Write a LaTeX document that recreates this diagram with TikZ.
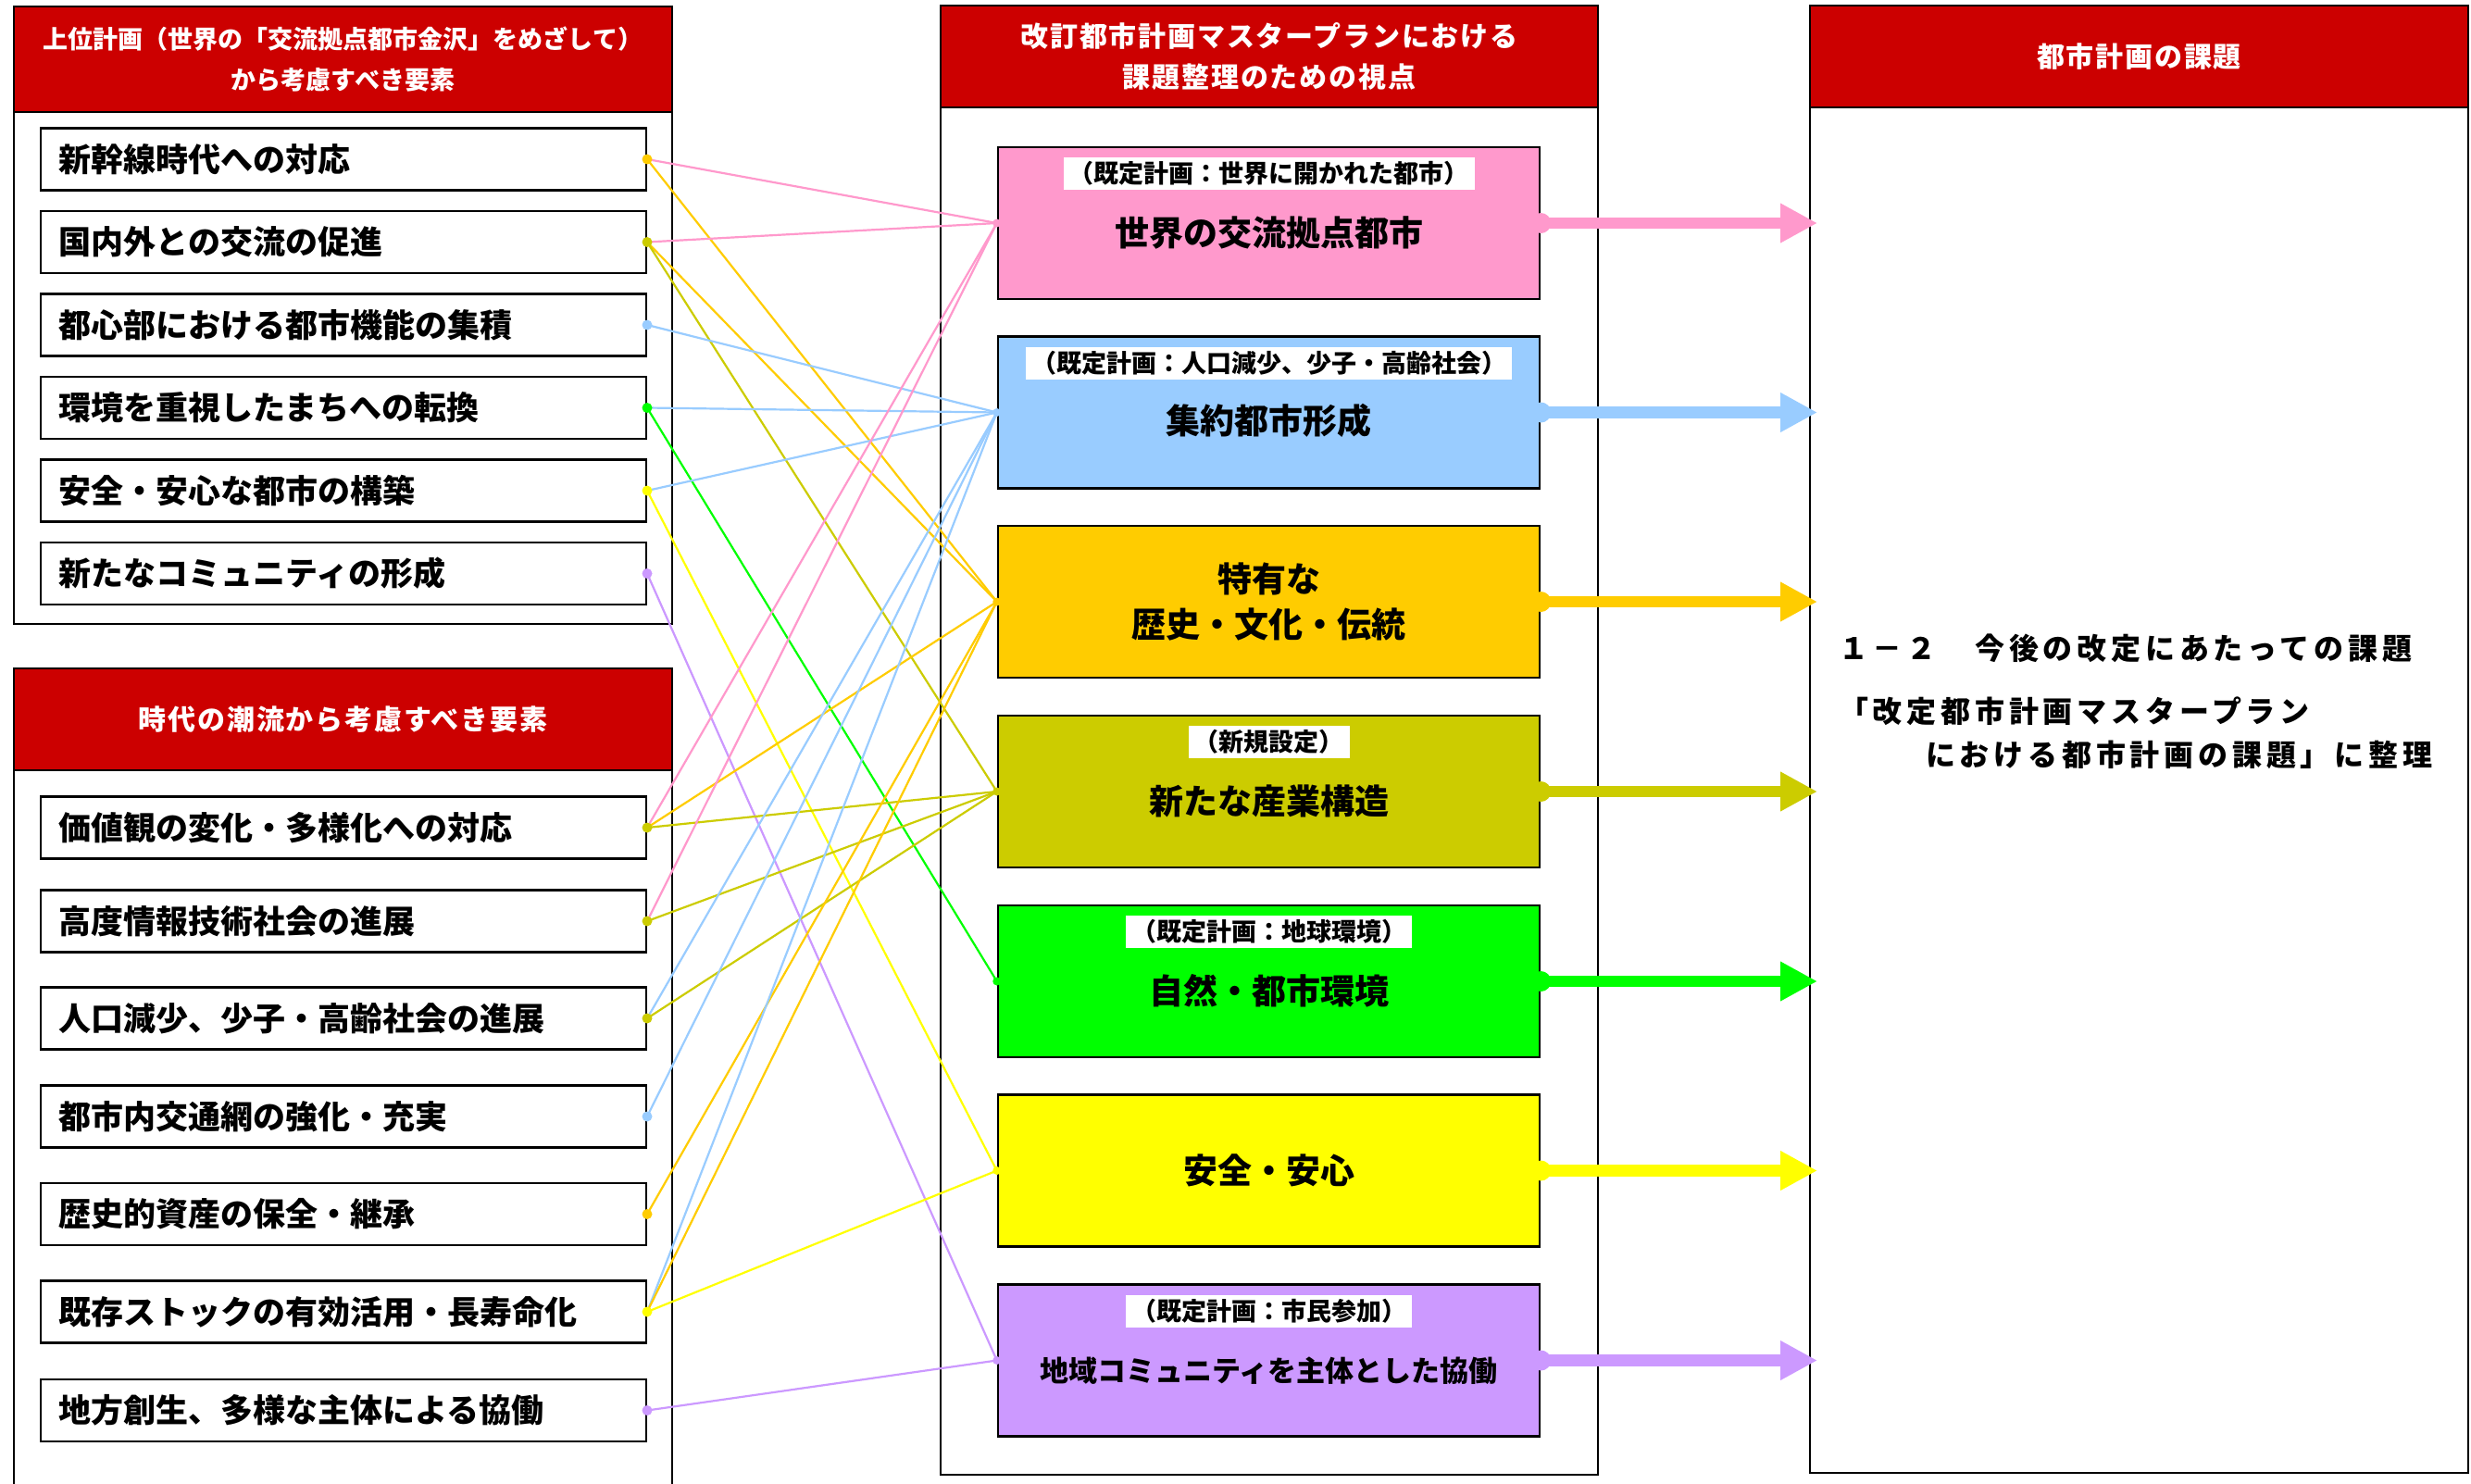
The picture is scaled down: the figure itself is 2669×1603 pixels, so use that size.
\documentclass[tikz,border=0pt]{standalone}
\usepackage{fontspec}
\setmainfont{Noto Sans CJK JP}
\newfontfamily\jphdr{Noto Sans CJK JP}[LetterSpace=6]
\newfontfamily\jpwide{Noto Sans CJK JP}[LetterSpace=15]
\usetikzlibrary{arrows.meta}
\definecolor{hdrred}{HTML}{CC0000}
\definecolor{cpink}{HTML}{FF99CC}
\definecolor{cblue}{HTML}{99CCFF}
\definecolor{corange}{HTML}{FFCC00}
\definecolor{colive}{HTML}{CCCC00}
\definecolor{cgreen}{HTML}{00FF00}
\definecolor{cyellow}{HTML}{FFFF00}
\definecolor{cpurple}{HTML}{CC99FF}
\begin{document}
\begin{tikzpicture}[x=1pt,y=-1pt,
 panel/.style={draw=black, line width=2.5pt},
 hdr/.style={draw=black, line width=2.5pt, fill=hdrred, text=white, align=center, inner sep=0pt,
   font=\jphdr\bfseries\fontsize{30}{44}\selectfont},
 item/.style={draw=black, line width=2.5pt, fill=white, minimum width=654pt, minimum height=67pt,
   text width=614pt, inner xsep=20pt, inner ysep=0pt, align=left, font=\bfseries\fontsize{35}{40}\selectfont},
 vbox/.style={draw=black, line width=2.5pt, minimum width=585pt, minimum height=164pt, inner sep=0pt},
 vtext/.style={font=\bfseries\fontsize{37}{49}\selectfont, align=center, inner sep=0pt},
 badge/.style={fill=white, inner xsep=6pt, inner ysep=0pt, minimum height=35pt, font=\bfseries\fontsize{27}{30}\selectfont},
 conn/.style={line width=2.2pt, draw=#1},
 bigarrow/.style={line width=12.5pt, draw=#1, -{Triangle[length=40pt,width=40pt]}},
 rtext/.style={anchor=west, inner sep=0pt, font=\jpwide\bfseries\fontsize{32}{40}\selectfont},
]
\useasboundingbox (0,0) rectangle (2669,1603);
\fill[white] (0,0) rectangle (2669,1603);

% ---------- panels ----------
\draw[panel] (15,7) rectangle (726,674);
\node[hdr, minimum width=711pt, minimum height=114pt, font=\bfseries\fontsize{27}{44}\selectfont] (hA) at (370.5,64)
  {上位計画（世界の「交流拠点都市金沢」をめざして）\\から考慮すべき要素};
\draw[panel] (15,1610) -- (15,722) -- (726,722) -- (726,1610);
\node[hdr, minimum width=711pt, minimum height=110pt] (hB) at (370.5,777) {時代の潮流から考慮すべき要素};
\draw[panel] (1016,6) rectangle (1726,1593);
\node[hdr, minimum width=710pt, minimum height=110pt] (hC) at (1371,61)
  {改訂都市計画マスタープランにおける\\課題整理のための視点};
\draw[panel] (1955,6) rectangle (2666,1591);
\node[hdr, minimum width=711pt, minimum height=110pt] (hD) at (2310.5,61) {都市計画の課題};

% ---------- left items ----------
\node[item] (u1) at (370.75,172) {新幹線時代への対応};
\node[item] (u2) at (370.75,261.5) {国内外との交流の促進};
\node[item] (u3) at (370.75,351) {都心部における都市機能の集積};
\node[item] (u4) at (370.75,440.5) {環境を重視したまちへの転換};
\node[item] (u5) at (370.75,530) {安全・安心な都市の構築};
\node[item] (u6) at (370.75,619.5) {新たなコミュニティの形成};

\node[item] (a1) at (370.75,894) {価値観の変化・多様化への対応};
\node[item] (a2) at (370.75,995) {高度情報技術社会の進展};
\node[item] (a3) at (370.75,1100) {人口減少、少子・高齢社会の進展};
\node[item] (a4) at (370.75,1206) {都市内交通網の強化・充実};
\node[item] (a5) at (370.75,1311.5) {歴史的資産の保全・継承};
\node[item] (a6) at (370.75,1417) {既存ストックの有効活用・長寿命化};
\node[item] (a7) at (370.75,1523.5) {地方創生、多様な主体による協働};

% ---------- middle boxes ----------
\node[vbox, fill=cpink] (m1) at (1370.5,241) {};
\node[badge] (b1) at (1370.5,187.5) {（既定計画：世界に開かれた都市）};
\node[vtext] (t1) at (1370.5,251) {世界の交流拠点都市};

\node[vbox, fill=cblue] (m2) at (1370.5,445.5) {};
\node[badge] (b2) at (1370.5,392) {（既定計画：人口減少、少子・高齢社会）};
\node[vtext] (t2) at (1370.5,454) {集約都市形成};

\node[vbox, fill=corange] (m3) at (1370.5,650) {};
\node[vtext] (t3) at (1370.5,650) {特有な\\歴史・文化・伝統};

\node[vbox, fill=colive] (m4) at (1370.5,855) {};
\node[badge] (b4) at (1370.5,801.5) {（新規設定）};
\node[vtext] (t4) at (1370.5,865) {新たな産業構造};

\node[vbox, fill=cgreen] (m5) at (1370.5,1060) {};
\node[badge] (b5) at (1370.5,1006.5) {（既定計画：地球環境）};
\node[vtext] (t5) at (1370.5,1070) {自然・都市環境};

\node[vbox, fill=cyellow] (m6) at (1370.5,1264.5) {};
\node[vtext] (t6) at (1370.5,1264.5) {安全・安心};

\node[vbox, fill=cpurple] (m7) at (1370.5,1469.5) {};
\node[badge] (b7) at (1370.5,1416) {（既定計画：市民参加）};
\node[vtext, font=\bfseries\fontsize{31}{40}\selectfont] (t7) at (1370.5,1481) {地域コミュニティを主体とした協働};

% ---------- connectors ----------
\draw[conn=cpink] (u1.east) -- (m1.west);
\draw[conn=corange] (u1.east) -- (m3.west);
\draw[conn=cpink] (u2.east) -- (m1.west);
\draw[conn=corange] (u2.east) -- (m3.west);
\draw[conn=colive] (u2.east) -- (m4.west);
\draw[conn=cblue] (u3.east) -- (m2.west);
\draw[conn=cblue] (u4.east) -- (m2.west);
\draw[conn=cgreen] (u4.east) -- (m5.west);
\draw[conn=cblue] (u5.east) -- (m2.west);
\draw[conn=cyellow] (u5.east) -- (m6.west);
\draw[conn=cpurple] (u6.east) -- (m7.west);

\draw[conn=cpink] (a1.east) -- (m1.west);
\draw[conn=corange] (a1.east) -- (m3.west);
\draw[conn=colive] (a1.east) -- (m4.west);
\draw[conn=cpink] (a2.east) -- (m1.west);
\draw[conn=colive] (a2.east) -- (m4.west);
\draw[conn=cblue] (a3.east) -- (m2.west);
\draw[conn=colive] (a3.east) -- (m4.west);
\draw[conn=cblue] (a4.east) -- (m2.west);
\draw[conn=corange] (a5.east) -- (m3.west);
\draw[conn=cblue] (a6.east) -- (m2.west);
\draw[conn=corange] (a6.east) -- (m3.west);
\draw[conn=cyellow] (a6.east) -- (m6.west);
\draw[conn=cpurple] (a7.east) -- (m7.west);

% start dots
\fill[corange] (u1.east) circle (5.5pt);
\fill[colive] (u2.east) circle (5.5pt);
\fill[cblue] (u3.east) circle (5.5pt);
\fill[cgreen] (u4.east) circle (5.5pt);
\fill[cyellow] (u5.east) circle (5.5pt);
\fill[cpurple] (u6.east) circle (5.5pt);
\fill[colive] (a1.east) circle (5.5pt);
\fill[colive] (a2.east) circle (5.5pt);
\fill[colive] (a3.east) circle (5.5pt);
\fill[cblue] (a4.east) circle (5.5pt);
\fill[corange] (a5.east) circle (5.5pt);
\fill[cyellow] (a6.east) circle (5.5pt);
\fill[cpurple] (a7.east) circle (5.5pt);
% end dots
\fill[cpink] (m1.west) circle (4.5pt);
\fill[cblue] (m2.west) circle (4.5pt);
\fill[corange] (m3.west) circle (4.5pt);
\fill[colive] (m4.west) circle (4.5pt);
\fill[cgreen] (m5.west) circle (4.5pt);
\fill[cyellow] (m6.west) circle (4.5pt);
\fill[cpurple] (m7.west) circle (4.5pt);

% ---------- big arrows ----------
\coordinate (r1) at (1963,241);
\coordinate (r2) at (1963,445.5);
\coordinate (r3) at (1963,650);
\coordinate (r4) at (1963,855);
\coordinate (r5) at (1963,1060);
\coordinate (r6) at (1963,1264.5);
\coordinate (r7) at (1963,1469.5);
\foreach \i/\c in {1/cpink,2/cblue,3/corange,4/colive,5/cgreen,6/cyellow,7/cpurple}{
  \fill[\c] (m\i.east) circle (11pt);
  \draw[bigarrow=\c] (m\i.east) -- (r\i);
}

% ---------- right text ----------
\node[rtext] (rt1) at (1986,700) {１－２　今後の改定にあたっての課題};
\node[rtext] (rt2) at (1986,768) {「改定都市計画マスタープラン};
\node[rtext] (rt3) at (2080,815) {における都市計画の課題」に整理};
\end{tikzpicture}
\end{document}
